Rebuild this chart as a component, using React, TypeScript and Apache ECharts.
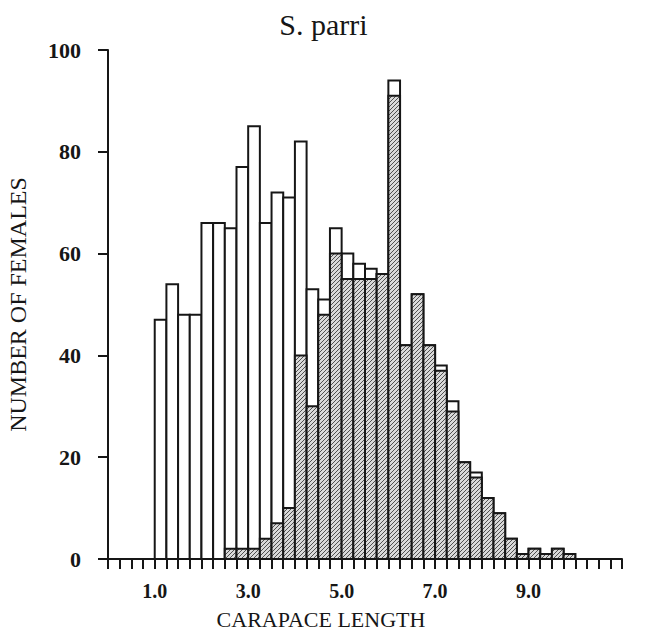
import React, { useEffect, useRef } from "react";
import * as echarts from "echarts";

// Lower edge of each 0.25 mm carapace-length class (mm)
const binStarts = [
  1.0, 1.25, 1.5, 1.75, 2.0, 2.25, 2.5, 2.75, 3.0, 3.25, 3.5, 3.75,
  4.0, 4.25, 4.5, 4.75, 5.0, 5.25, 5.5, 5.75, 6.0, 6.25, 6.5, 6.75,
  7.0, 7.25, 7.5, 7.75, 8.0, 8.25, 8.5, 8.75, 9.0, 9.25, 9.5, 9.75,
];
const BIN_WIDTH = 0.25;

// All females per size class (open bars)
const allFemales = [
  47, 54, 48, 48, 66, 66, 65, 77, 85, 66, 72, 71,
  82, 53, 51, 65, 60, 58, 57, 56, 94, 42, 52, 42,
  38, 31, 19, 17, 12, 9, 4, 1, 2, 1, 2, 1,
];

// Subset per size class (hatched bars)
const hatchedFemales = [
  0, 0, 0, 0, 0, 0, 2, 2, 2, 4, 7, 10,
  40, 30, 48, 60, 55, 55, 55, 56, 91, 42, 52, 42,
  37, 29, 19, 16, 12, 9, 4, 1, 2, 1, 2, 1,
];

const xTickLabels = [1.0, 3.0, 5.0, 7.0, 9.0];
const yTicks = [0, 20, 40, 60, 80, 100];

const INK = "#161616";
const SERIF = "'Liberation Serif', 'DejaVu Serif', serif";

function makeHatch(): HTMLCanvasElement {
  const c = document.createElement("canvas");
  const s = 4;
  c.width = s;
  c.height = s;
  const g = c.getContext("2d")!;
  g.fillStyle = "#d9d9d9";
  g.fillRect(0, 0, s, s);
  g.strokeStyle = "#505050";
  g.lineWidth = 1;
  g.beginPath();
  g.moveTo(0, s);
  g.lineTo(s, 0);
  g.moveTo(-1, 1);
  g.lineTo(1, -1);
  g.moveTo(s - 1, s + 1);
  g.lineTo(s + 1, s - 1);
  g.stroke();
  return c;
}

export default function App() {
  const ref = useRef<HTMLDivElement>(null);

  useEffect(() => {
    if (!ref.current) return;
    const chart = echarts.init(ref.current, null, { renderer: "svg" });
    const hatch = makeHatch();

    const rows = (vals: number[]) =>
      binStarts.map((b, i) => [b, b + BIN_WIDTH, vals[i]]);

    const barRenderer = (fill: any) => (params: any, api: any) => {
      const v = api.value(2);
      if (!v) return null;
      const top = api.coord([api.value(0), v]);
      const bottom = api.coord([api.value(1), 0]);
      return {
        type: "rect",
        shape: {
          x: top[0],
          y: top[1],
          width: bottom[0] - top[0],
          height: bottom[1] - top[1],
        },
        style: { fill, stroke: INK, lineWidth: 2 },
      };
    };

    chart.setOption({
      animation: false,
      backgroundColor: "#ffffff",
      title: {
        text: "S. parri",
        left: "center",
        top: 4,
        textStyle: {
          fontFamily: SERIF,
          fontSize: 30,
          fontWeight: "normal",
          color: INK,
        },
      },
      grid: {
        left: 108,
        right: 25,
        top: 50,
        bottom: 73,
        containLabel: false,
        outerBoundsMode: "none",
      },
      xAxis: {
        type: "value",
        min: 0,
        max: 11,
        interval: 0.25,
        axisLine: { lineStyle: { color: INK, width: 2 } },
        axisTick: { length: 10, lineStyle: { color: INK, width: 2 } },
        splitLine: { show: false },
        axisLabel: {
          interval: 0,
          margin: 22,
          fontFamily: SERIF,
          fontSize: 20,
          fontWeight: "bold",
          color: INK,
          formatter: (v: number) => {
            const hit = xTickLabels.find((t) => Math.abs(t - v) < 1e-6);
            return hit === undefined ? "" : hit.toFixed(1);
          },
        },
      },
      yAxis: {
        type: "value",
        min: yTicks[0],
        max: yTicks[yTicks.length - 1],
        interval: 20,
        name: "NUMBER OF FEMALES",
        nameLocation: "middle",
        nameGap: 78,
        nameTextStyle: {
          fontFamily: SERIF,
          fontSize: 24,
          color: INK,
        },
        axisLine: { show: true, lineStyle: { color: INK, width: 2 } },
        axisTick: { show: true, length: 10, lineStyle: { color: INK, width: 2 } },
        splitLine: { show: false },
        axisLabel: {
          margin: 27,
          fontFamily: SERIF,
          fontSize: 22,
          fontWeight: "bold",
          color: INK,
        },
      },
      graphic: [
        {
          type: "text",
          x: 321,
          y: 619,
          style: {
            text: "CARAPACE LENGTH",
            fontFamily: SERIF,
            fontSize: 22,
            fill: INK,
            align: "center",
            verticalAlign: "middle",
          },
        },
      ],
      series: [
        {
          name: "All females",
          type: "custom",
          renderItem: barRenderer("#ffffff"),
          encode: { x: [0, 1], y: 2 },
          data: rows(allFemales),
          z: 2,
        },
        {
          name: "Hatched",
          type: "custom",
          renderItem: barRenderer({ image: hatch, repeat: "repeat" }),
          encode: { x: [0, 1], y: 2 },
          data: rows(hatchedFemales),
          z: 3,
        },
      ],
    });

    return () => chart.dispose();
  }, []);

  return (
    <div
      ref={ref}
      style={{ position: "fixed", left: 0, top: 0, width: 647, height: 632 }}
    />
  );
}
